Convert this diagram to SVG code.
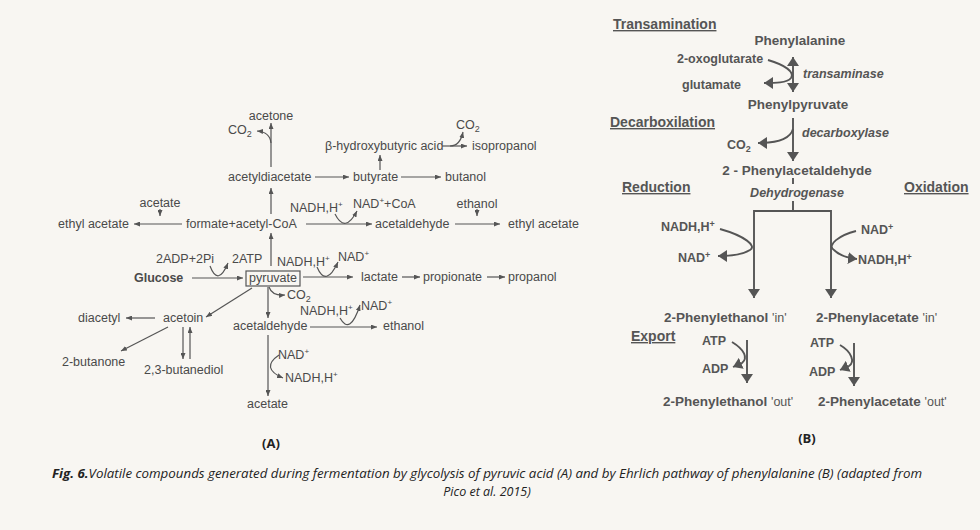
<svg xmlns="http://www.w3.org/2000/svg" width="980" height="530" viewBox="0 0 980 530">
<style>
.a{font-family:"Liberation Sans",Arial,sans-serif;font-size:12.5px;fill:#4a4a4a}
.b{font-family:"Liberation Sans",Arial,sans-serif;font-weight:bold;font-size:13.5px;fill:#555}
.bs{font-family:"Liberation Sans",Arial,sans-serif;font-weight:bold;font-size:12.5px;fill:#555}
.bi{font-family:"Liberation Sans",Arial,sans-serif;font-weight:bold;font-style:italic;font-size:12.5px;fill:#555}
.h{font-family:"Liberation Sans",Arial,sans-serif;font-weight:bold;font-size:14px;fill:#555;text-decoration:underline}
.n{font-weight:normal}
.la{fill:none;stroke:#555;stroke-width:1.2}
.lb{fill:none;stroke:#555;stroke-width:1.9}
.cap{font-family:"Open Sans","Liberation Sans",sans-serif;font-style:italic;font-size:12.5px;fill:#222}
.lab{font-family:"Open Sans","Liberation Sans",sans-serif;font-weight:bold;font-size:13px;fill:#222}
</style>
<defs>
<marker id="ma" viewBox="0 0 6 5" refX="6" refY="2.5" markerWidth="6" markerHeight="5" markerUnits="userSpaceOnUse" orient="auto"><path d="M0,0 L6,2.5 L0,5 z" fill="#555"/></marker>
<marker id="mb" viewBox="0 0 9 12" refX="9" refY="6" markerWidth="9" markerHeight="12" markerUnits="userSpaceOnUse" orient="auto-start-reverse"><path d="M0,0 L9,6 L0,12 z" fill="#555"/></marker>
</defs>
<rect width="980" height="530" fill="#f8f6f2"/>

<g id="panelA">
<g id="acetone"><text class="a" x="271" y="120" text-anchor="middle">acetone</text></g>
<g id="co2-a1"><text class="a" x="228" y="134">CO<tspan font-size="9" dy="3">2</tspan></text></g>
<g id="acetyldiacetate"><text class="a" x="228" y="181">acetyldiacetate</text></g>
<g id="butyrate"><text class="a" x="353" y="181">butyrate</text></g>
<g id="butanol"><text class="a" x="445" y="181">butanol</text></g>
<g id="hydroxybutyric"><text class="a" x="325" y="150">β-hydroxybutyric acid</text></g>
<g id="co2-a2"><text class="a" x="456" y="129">CO<tspan font-size="9" dy="3">2</tspan></text></g>
<g id="isopropanol"><text class="a" x="472" y="150">isopropanol</text></g>
<g id="acetate-1"><text class="a" x="160" y="207" text-anchor="middle">acetate</text></g>
<g id="ethylacetate-1"><text class="a" x="58" y="228">ethyl acetate</text></g>
<g id="acetylcoa"><text class="a" x="186" y="228">formate+acetyl-CoA</text></g>
<g id="nadh-a1"><text class="a" x="290" y="212">NADH,H<tspan font-size="8" dy="-5">+</tspan></text></g>
<g id="nad-a1"><text class="a" x="353" y="208">NAD<tspan font-size="8" dy="-5">+</tspan><tspan dy="5">+CoA</tspan></text></g>
<g id="acetaldehyde-1"><text class="a" x="375" y="228">acetaldehyde</text></g>
<g id="ethanol-1"><text class="a" x="477" y="208" text-anchor="middle">ethanol</text></g>
<g id="ethylacetate-2"><text class="a" x="508" y="228">ethyl acetate</text></g>
<g id="adp"><text class="a" x="156" y="263">2ADP+2Pi</text></g>
<g id="atp"><text class="a" x="232" y="263">2ATP</text></g>
<g id="glucose"><text class="a" x="134" y="282" font-weight="bold">Glucose</text></g>
<g id="pyruvate"><rect x="246" y="271" width="54" height="15" fill="none" stroke="#555" stroke-width="1.2"/><text class="a" x="273" y="282" text-anchor="middle">pyruvate</text></g>
<g id="nadh-a2"><text class="a" x="277" y="266">NADH,H<tspan font-size="8" dy="-5">+</tspan></text></g>
<g id="nad-a2"><text class="a" x="338" y="261">NAD<tspan font-size="8" dy="-5">+</tspan></text></g>
<g id="lactate"><text class="a" x="361" y="281">lactate</text></g>
<g id="propionate"><text class="a" x="423" y="281">propionate</text></g>
<g id="propanol"><text class="a" x="508" y="281">propanol</text></g>
<g id="co2-a3"><text class="a" x="287" y="299">CO<tspan font-size="9" dy="3">2</tspan></text></g>
<g id="acetaldehyde-2"><text class="a" x="233" y="330">acetaldehyde</text></g>
<g id="nadh-a3"><text class="a" x="300" y="315">NADH,H<tspan font-size="8" dy="-5">+</tspan></text></g>
<g id="nad-a3"><text class="a" x="361" y="310">NAD<tspan font-size="8" dy="-5">+</tspan></text></g>
<g id="ethanol-2"><text class="a" x="383" y="330">ethanol</text></g>
<g id="nad-a4"><text class="a" x="278" y="359">NAD<tspan font-size="8" dy="-5">+</tspan></text></g>
<g id="nadh-a4"><text class="a" x="285" y="382">NADH,H<tspan font-size="8" dy="-5">+</tspan></text></g>
<g id="acetate-2"><text class="a" x="247" y="408">acetate</text></g>
<g id="acetoin"><text class="a" x="163" y="322">acetoin</text></g>
<g id="diacetyl"><text class="a" x="78" y="322">diacetyl</text></g>
<g id="butanone"><text class="a" x="62" y="366">2-butanone</text></g>
<g id="butanediol"><text class="a" x="144" y="374">2,3-butanediol</text></g>
<g id="labelA"><text class="lab" x="271" y="448" text-anchor="middle">(A)</text></g>
</g>

<g id="panelB">
<g id="h-trans"><text class="h" x="613" y="29">Transamination</text></g>
<g id="phenylalanine"><text class="b" x="800" y="45" text-anchor="middle">Phenylalanine</text></g>
<g id="oxoglutarate"><text class="bs" x="677" y="63">2-oxoglutarate</text></g>
<g id="glutamate"><text class="bs" x="682" y="89">glutamate</text></g>
<g id="transaminase"><text class="bi" x="803" y="78">transaminase</text></g>
<g id="phenylpyruvate"><text class="b" x="798" y="109" text-anchor="middle">Phenylpyruvate</text></g>
<g id="h-decarb"><text class="h" x="610" y="127">Decarboxilation</text></g>
<g id="decarboxylase"><text class="bi" x="802" y="137">decarboxylase</text></g>
<g id="co2-b"><text class="bs" x="727" y="149">CO<tspan font-size="9" dy="3">2</tspan></text></g>
<g id="phenylacetaldehyde"><text class="b" x="797" y="175" text-anchor="middle">2 - Phenylacetaldehyde</text></g>
<g id="h-red"><text class="h" x="622" y="192">Reduction</text></g>
<g id="h-ox"><text class="h" x="904" y="192">Oxidation</text></g>
<g id="dehydrogenase"><text class="bi" x="797" y="197" text-anchor="middle" font-size="11.5">Dehydrogenase</text></g>
<g id="nadh-b1"><text class="bs" x="661" y="231">NADH,H<tspan font-size="9" dy="-4">+</tspan></text></g>
<g id="nad-b1"><text class="bs" x="678" y="262">NAD<tspan font-size="9" dy="-4">+</tspan></text></g>
<g id="nad-b2"><text class="bs" x="861" y="234">NAD<tspan font-size="9" dy="-4">+</tspan></text></g>
<g id="nadh-b2"><text class="bs" x="858" y="264">NADH,H<tspan font-size="9" dy="-4">+</tspan></text></g>
<g id="pe-in"><text class="b" x="664" y="322">2-Phenylethanol <tspan class="n" font-size="12.5">'in'</tspan></text></g>
<g id="pa-in"><text class="b" x="816" y="322">2-Phenylacetate <tspan class="n" font-size="12.5">'in'</tspan></text></g>
<g id="h-export"><text class="h" x="631" y="341">Export</text></g>
<g id="atp-b1"><text class="bs" x="702" y="345">ATP</text></g>
<g id="adp-b1"><text class="bs" x="702" y="373">ADP</text></g>
<g id="atp-b2"><text class="bs" x="810" y="347">ATP</text></g>
<g id="adp-b2"><text class="bs" x="809" y="376">ADP</text></g>
<g id="pe-out"><text class="b" x="663" y="406">2-Phenylethanol <tspan class="n" font-size="12.5">'out'</tspan></text></g>
<g id="pa-out"><text class="b" x="818" y="406">2-Phenylacetate <tspan class="n" font-size="12.5">'out'</tspan></text></g>
<g id="labelB"><text class="lab" x="807" y="443" text-anchor="middle">(B)</text></g>
</g>

<g id="connectors">
<g class="la" marker-end="url(#ma)">
<path d="M271,167 L271,123"/>
<path d="M271,143 Q270,132 257,131"/>
<path d="M271,214 L271,188"/>
<path d="M315,177 L349,177"/>
<path d="M401,177 L441,177"/>
<path d="M380,170 L380,155"/>
<path d="M442,146 L467,146"/>
<path d="M450,146 Q460,146 463,132"/>
<path d="M182,224 L134,224"/>
<path d="M160,209 L160,216"/>
<path d="M306,224 L372,224"/>
<path d="M335,214 Q345,234 357,211"/>
<path d="M477,209 L477,216"/>
<path d="M455,224 L500,224"/>
<path d="M192,278 L243,278"/>
<path d="M210,266 Q218,287 228,263"/>
<path d="M271,266 L271,233"/>
<path d="M303,277 L353,277"/>
<path d="M317,267 Q326,288 338,262"/>
<path d="M402,277 L420,277"/>
<path d="M487,277 L505,277"/>
<path d="M269,287 Q272,296 285,295"/>
<path d="M268,287 L268,318"/>
<path d="M310,327 L377,327"/>
<path d="M340,318 Q350,336 360,305"/>
<path d="M268,335 L268,396"/>
<path d="M279,355 Q260,368 283,378"/>
<path d="M252,288 L206,317"/>
<path d="M155,318 L126,318"/>
<path d="M168,327 L121,351"/>
<path d="M183,327 L183,359"/>
<path d="M190,359 L190,327"/>
</g>
<g class="lb">
<path d="M793,57 L793,92" marker-start="url(#mb)" marker-end="url(#mb)"/>
<path d="M768,60 C785,65 795,72 791,78 C787,83 775,83 764,83" marker-end="url(#mb)"/>
<path d="M793,118 L793,161" marker-end="url(#mb)"/>
<path d="M793,129 C790,140 775,143 758,143" marker-end="url(#mb)"/>
<path d="M793,178 L793,184"/>
<path d="M793,201 L793,211 M754,211 L831,211"/>
<path d="M754,210 L754,298" marker-end="url(#mb)"/>
<path d="M831,210 L831,298" marker-end="url(#mb)"/>
<path d="M720,229 C745,236 757,246 750,250 C742,255 730,256 718,256" marker-end="url(#mb)"/>
<path d="M856,231 C840,235 826,245 834,250 C840,256 848,258 857,259" marker-end="url(#mb)"/>
<path d="M747,340 L747,383" marker-end="url(#mb)"/>
<path d="M732,342 C745,350 748,358 742,363 L733,367" marker-end="url(#mb)"/>
<path d="M854,343 L854,386" marker-end="url(#mb)"/>
<path d="M840,345 C852,352 855,362 849,366 L840,370" marker-end="url(#mb)"/>
</g>
</g>

<g id="caption">
<text class="cap" x="487" y="478" text-anchor="middle" textLength="870" lengthAdjust="spacingAndGlyphs"><tspan font-weight="bold">Fig. 6.</tspan>Volatile compounds generated during fermentation by glycolysis of pyruvic acid (A) and by Ehrlich pathway of phenylalanine (B) (adapted from</text>
<text class="cap" x="487" y="496" text-anchor="middle">Pico et al. 2015)</text>
</g>
</svg>
